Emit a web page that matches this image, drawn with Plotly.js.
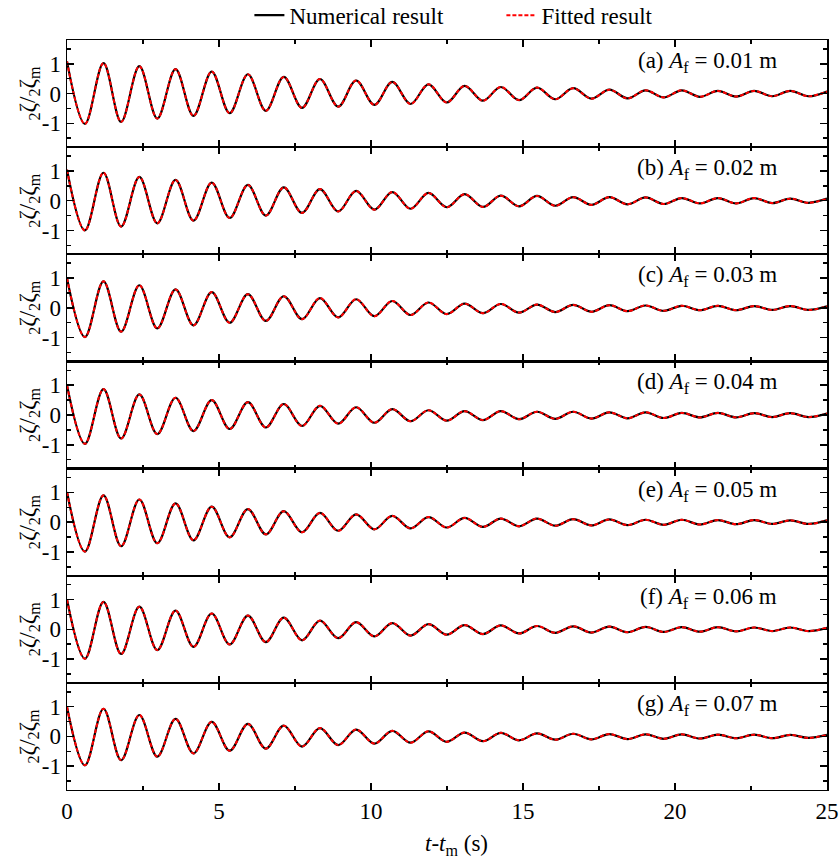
<!DOCTYPE html>
<html><head><meta charset="utf-8">
<script src="https://cdn.plot.ly/plotly-3.0.1.min.js"></script>
<style>body{margin:0;background:#fff}</style>
</head><body><div id="chart" style="width:839px;height:868px"></div>
<script>
// times of successive extrema (peak, trough, peak, ...), s
const extremaTimes = [0, 0.59, 1.2, 1.78, 2.38, 2.97, 3.57, 4.16, 4.76, 5.35, 5.95, 6.54, 7.13, 7.73, 8.32, 8.92, 9.51, 10.11, 10.7, 11.3, 11.89, 12.49, 13.08, 13.68, 14.27, 14.87, 15.46, 16.06, 16.65, 17.25, 17.84, 18.44, 19.03, 19.63, 20.22, 20.82, 21.41, 22.01, 22.6, 23.2, 23.79, 24.39, 25.0];

// extremum values of zeta2/zeta2m for each panel
const panelA = [1.08, -1.02, 1.02, -0.95, 0.92, -0.84, 0.82, -0.75, 0.74, -0.66, 0.65, -0.58, 0.56, -0.48, 0.49, -0.44, 0.44, -0.38, 0.39, -0.35, 0.31, -0.30, 0.26, -0.24, 0.22, -0.22, 0.20, -0.19, 0.18, -0.17, 0.13, -0.16, 0.11, -0.13, 0.11, -0.11, 0.09, -0.10, 0.09, -0.09, 0.09, -0.09, 0.07];
const panelB = [1.04, -1.00, 0.94, -0.87, 0.80, -0.76, 0.70, -0.67, 0.61, -0.58, 0.53, -0.50, 0.45, -0.41, 0.39, -0.36, 0.33, -0.30, 0.29, -0.27, 0.26, -0.22, 0.22, -0.21, 0.17, -0.19, 0.16, -0.17, 0.12, -0.14, 0.12, -0.12, 0.11, -0.11, 0.09, -0.09, 0.09, -0.09, 0.09, -0.08, 0.07, -0.07, 0.07];
const panelC = [1.00, -0.98, 0.89, -0.80, 0.76, -0.69, 0.62, -0.59, 0.53, -0.50, 0.46, -0.44, 0.39, -0.38, 0.33, -0.32, 0.29, -0.28, 0.23, -0.24, 0.18, -0.21, 0.14, -0.18, 0.13, -0.16, 0.11, -0.14, 0.10, -0.13, 0.09, -0.11, 0.08, -0.10, 0.07, -0.08, 0.07, -0.08, 0.06, -0.07, 0.06, -0.07, 0.05];
const panelD = [1.00, -0.97, 0.87, -0.79, 0.69, -0.64, 0.58, -0.54, 0.50, -0.47, 0.43, -0.42, 0.37, -0.37, 0.31, -0.29, 0.26, -0.26, 0.20, -0.21, 0.16, -0.19, 0.13, -0.17, 0.13, -0.14, 0.11, -0.13, 0.11, -0.12, 0.09, -0.11, 0.09, -0.10, 0.07, -0.08, 0.07, -0.08, 0.06, -0.07, 0.06, -0.07, 0.05];
const panelE = [1.01, -0.99, 0.90, -0.81, 0.76, -0.71, 0.63, -0.61, 0.52, -0.51, 0.44, -0.41, 0.37, -0.34, 0.31, -0.29, 0.26, -0.24, 0.21, -0.21, 0.17, -0.18, 0.14, -0.16, 0.12, -0.14, 0.12, -0.12, 0.10, -0.11, 0.09, -0.10, 0.08, -0.09, 0.08, -0.08, 0.07, -0.07, 0.07, -0.06, 0.06, -0.06, 0.06];
const panelF = [1.00, -0.99, 0.92, -0.83, 0.76, -0.70, 0.63, -0.59, 0.53, -0.51, 0.46, -0.43, 0.39, -0.37, 0.29, -0.30, 0.24, -0.24, 0.21, -0.21, 0.17, -0.18, 0.14, -0.16, 0.13, -0.14, 0.11, -0.12, 0.10, -0.11, 0.09, -0.10, 0.08, -0.09, 0.07, -0.08, 0.07, -0.07, 0.06, -0.06, 0.06, -0.06, 0.05];
const panelG = [0.99, -0.97, 0.93, -0.80, 0.72, -0.68, 0.59, -0.57, 0.49, -0.48, 0.42, -0.41, 0.36, -0.34, 0.28, -0.29, 0.23, -0.24, 0.19, -0.21, 0.17, -0.18, 0.13, -0.16, 0.12, -0.13, 0.10, -0.11, 0.09, -0.10, 0.08, -0.09, 0.07, -0.08, 0.07, -0.07, 0.06, -0.06, 0.06, -0.06, 0.05, -0.05, 0.05];
// fitted curves overlap the numerical ones in the picture
const fittedA = panelA, fittedB = panelB, fittedC = panelC, fittedD = panelD, fittedE = panelE, fittedF = panelF, fittedG = panelG;

const panelLetters = ['(a)', '(b)', '(c)', '(d)', '(e)', '(f)', '(g)'];
const forcingAmplitudes = ['0.01', '0.02', '0.03', '0.04', '0.05', '0.06', '0.07'];
const xTickVals = [0, 5, 10, 15, 20, 25];
const xTickText = ['0', '5', '10', '15', '20', '25'];
const xMinorVals = [2.5, 7.5, 12.5, 17.5, 22.5];
const yTickVals = [-1, 0, 1];
const yTickText = ['-1', '0', '1'];
const yMinorVals = [-1.5, -0.5, 0.5, 1.5];

const numerical = [panelA, panelB, panelC, panelD, panelE, panelF, panelG];
const fitted = [fittedA, fittedB, fittedC, fittedD, fittedE, fittedF, fittedG];

const FONT = 'Liberation Serif, Times New Roman, serif';
const FS = 23;
const N = numerical.length;
const traces = [];
const layout = {
  width: 839, height: 868,
  margin: {l: 67, r: 12, t: 40, b: 78, autoexpand: false},
  paper_bgcolor: '#fff', plot_bgcolor: '#fff',
  font: {family: FONT, size: FS, color: '#000'},
  showlegend: true,
  legend: {orientation: 'h', x: 0.24, xanchor: 'left', y: 1.033, yanchor: 'middle',
           entrywidth: 207, entrywidthmode: 'pixels',
           font: {family: FONT, size: FS, color: '#000'}, bgcolor: 'rgba(0,0,0,0)', traceorder: 'normal'},
  annotations: []
};

for (let i = 0; i < N; i++) {
  const sfx = i === 0 ? '' : String(i + 1);
  traces.push({
    type: 'scatter', mode: 'lines', x: extremaTimes, y: numerical[i],
    xaxis: 'x' + sfx, yaxis: 'y' + sfx,
    line: {color: '#000', width: 2.2, shape: 'spline', smoothing: 1},
    name: 'Numerical result', legendgroup: 'num', showlegend: i === 0
  });
  traces.push({
    type: 'scatter', mode: 'lines', x: extremaTimes, y: fitted[i],
    xaxis: 'x' + sfx, yaxis: 'y' + sfx,
    line: {color: '#ff0000', width: 2, dash: '4px,2px', shape: 'spline', smoothing: 1},
    name: 'Fitted result', legendgroup: 'fit', showlegend: i === 0
  });
  const top = 1 - i / N, bot = 1 - (i + 1) / N;
  layout['xaxis' + sfx] = {
    domain: [0, 1], anchor: 'y' + sfx, range: [0, 25],
    showline: true, linecolor: '#000', linewidth: 1.1, mirror: 'ticks',
    ticks: 'inside', ticklen: 7, tickwidth: 1.5, tickcolor: '#000',
    tickmode: 'array', tickvals: xTickVals, ticktext: xTickText,
    showticklabels: i === N - 1, showgrid: false, zeroline: false,
    tickfont: {family: FONT, size: FS},
    minor: {ticks: 'inside', ticklen: 4, tickwidth: 1.5, tickcolor: '#000', tickmode: 'array', tickvals: xMinorVals, showgrid: false}
  };
  layout['yaxis' + sfx] = {
    domain: [bot, top], anchor: 'x' + sfx, range: [-1.8, 1.8],
    showline: true, linecolor: '#000', linewidth: 1.5, mirror: 'ticks',
    ticks: 'inside', ticklen: 7, tickwidth: 1.5, tickcolor: '#000',
    tickmode: 'array', tickvals: yTickVals, ticktext: yTickText,
    showgrid: false, zeroline: false,
    tickfont: {family: FONT, size: FS},
    minor: {ticks: 'inside', ticklen: 4, tickwidth: 1.5, tickcolor: '#000', tickmode: 'array', tickvals: yMinorVals, showgrid: false}
  };
  layout.annotations.push({
    xref: 'paper', yref: 'paper', x: 0.937, xanchor: 'right',
    y: top - 22 / 750, yanchor: 'middle', showarrow: false,
    text: panelLetters[i] + ' <i>A</i><sub>f</sub> = ' + forcingAmplitudes[i] + ' m',
    font: {family: FONT, size: FS, color: '#000'}
  });
  layout.annotations.push({
    xref: 'paper', yref: 'paper', x: -0.05, xanchor: 'center',
    y: (top + bot) / 2, yanchor: 'middle', showarrow: false, textangle: -90,
    text: '<sub>2</sub>ζ/<sub>2</sub>ζ<sub>m</sub>',
    font: {family: FONT, size: FS, color: '#000'}
  });
}
layout.annotations.push({
  xref: 'paper', yref: 'paper', x: 0.513, xanchor: 'center', y: -0.073, yanchor: 'middle',
  showarrow: false, text: '<i>t</i>-<i>t</i><sub>m</sub> (s)',
  font: {family: FONT, size: FS, color: '#000'}
});

Plotly.newPlot('chart', traces, layout, {displayModeBar: false, staticPlot: true});
</script>
</body></html>
